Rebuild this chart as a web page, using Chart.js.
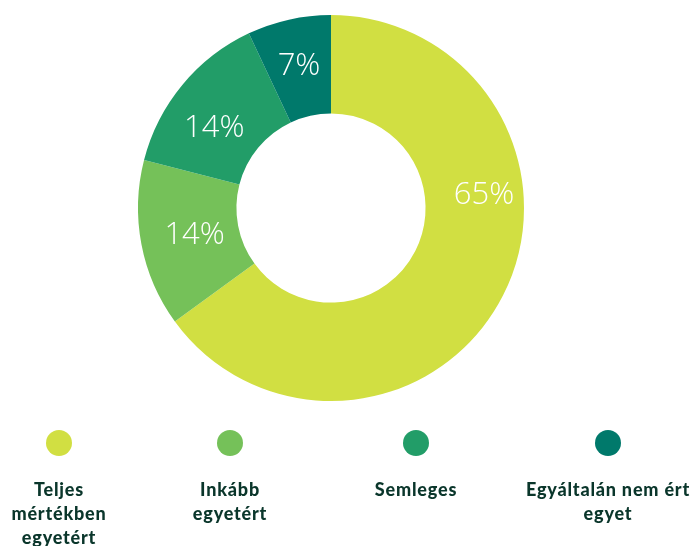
<!DOCTYPE html>
<html lang="hu">
<head>
  <meta charset="UTF-8" />
  <title>Egyetértés</title>
  <script src="https://cdn.jsdelivr.net/npm/chart.js"></script>
  <style>
    html, body {
      margin: 0;
      padding: 0;
      background: #ffffff;
    }
    #wrap {
      width: 696px;
      height: 546px;
    }
  </style>
</head>
<body>
  <div id="wrap"><canvas id="donut" width="696" height="546"></canvas></div>

  <script>
    // kategóriák (sorokra törve, ahogy a jelmagyarázatban megjelennek)
    const categories = [
      ['Teljes', 'mértékben', 'egyetért'],
      ['Inkább', 'egyetért'],
      ['Semleges'],
      ['Egyáltalán nem ért', 'egyet']
    ];
    const values = [65, 14, 14, 7];
    const colors = ['#d1df42', '#75c159', '#229d68', '#00796b'];

    // címke helye a szeleten belül: [szög aránya, sugár aránya]
    const labelSpots = [[0.362, 0.6], [0.5, 0.45], [0.4, 0.48], [0.5, 0.53]];
    const legendX = [59, 230, 416, 608];

    const sliceLabels = {
      id: 'sliceLabels',
      afterDatasetsDraw(chart) {
        const ctx = chart.ctx;
        const arcs = chart.getDatasetMeta(0).data;
        ctx.save();
        ctx.fillStyle = '#ffffff';
        ctx.font = '300 31px "Open Sans", "Lato", sans-serif';
        ctx.textAlign = 'center';
        ctx.textBaseline = 'middle';
        arcs.forEach((arc, i) => {
          const p = arc.getProps(['x', 'y', 'startAngle', 'endAngle', 'innerRadius', 'outerRadius'], true);
          const a = p.startAngle + (p.endAngle - p.startAngle) * labelSpots[i][0];
          const r = p.innerRadius + (p.outerRadius - p.innerRadius) * labelSpots[i][1];
          ctx.fillText(values[i] + '%', p.x + Math.cos(a) * r, p.y + Math.sin(a) * r + 1);
        });
        ctx.restore();
      }
    };

    // jelmagyarázat: pötty fölül, félkövér szöveg alatta
    const bottomLegend = {
      id: 'bottomLegend',
      afterDraw(chart) {
        const ctx = chart.ctx;
        ctx.save();
        categories.forEach((lines, i) => {
          ctx.fillStyle = colors[i];
          ctx.beginPath();
          ctx.arc(legendX[i], 443, 13, 0, Math.PI * 2);
          ctx.fill();

          ctx.fillStyle = '#0a362b';
          ctx.font = '900 18px "Lato", "Open Sans", sans-serif';
          ctx.letterSpacing = '0.8px';
          ctx.textAlign = 'center';
          ctx.textBaseline = 'alphabetic';
          lines.forEach((t, j) => {
            ctx.fillText(t, legendX[i], 496 + j * 24);
          });
        });
        ctx.restore();
      }
    };

    new Chart(document.getElementById('donut'), {
      type: 'doughnut',
      data: {
        labels: categories.map(c => c.join(' ')),
        datasets: [{
          data: values,
          backgroundColor: colors,
          borderWidth: 0,
          hoverOffset: 0
        }]
      },
      options: {
        responsive: false,
        animation: false,
        events: [],
        cutout: '49%',
        layout: {
          padding: { top: 15, bottom: 145, left: 138, right: 172 }
        },
        plugins: {
          legend: { display: false },
          tooltip: { enabled: false }
        }
      },
      plugins: [sliceLabels, bottomLegend]
    });
  </script>
</body>
</html>
